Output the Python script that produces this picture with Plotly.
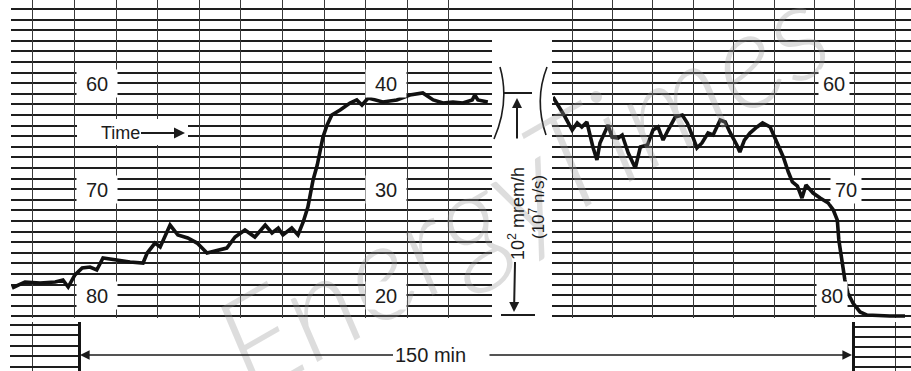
import plotly.graph_objects as go

# ---------------- data ----------------
# left chart segment: time in minutes, pen position in chart divisions
left_time = [-12.5, -10.0, -7.1, -4.2, -2.7, -1.7, -0.4, 1.0, 2.5, 3.8, 5.0, 7.3, 10.2, 12.7,
             13.5, 15.0, 16.0, 17.9, 19.4, 21.3, 23.1, 25.0, 27.1, 28.8, 30.4, 32.3, 34.2,
             36.2, 37.5, 38.7, 39.6, 41.3, 42.5, 43.5, 44.4, 45.4, 46.2, 46.7, 47.3, 48.1,
             49.0, 50.6, 52.5, 53.8, 54.8, 56.0, 58.8, 61.5, 64.0, 66.5, 68.5, 70.4, 72.3,
             74.2, 76.0, 76.5, 77.1, 79.0]
left_reading = [79.32, 78.75, 78.85, 78.75, 78.57, 79.23, 78.09, 77.43, 77.34, 77.62, 76.49,
                76.68, 76.87, 76.96, 76.02, 75.08, 75.45, 73.38, 74.32, 74.60, 75.08, 76.02,
                75.74, 75.55, 74.51, 73.85, 74.51, 73.38, 74.13, 73.66, 74.32, 73.66, 74.32,
                73.09, 71.68, 69.13, 67.72, 66.30, 65.08, 63.94, 63.00, 62.53, 61.87, 61.58,
                62.06, 61.40, 61.77, 61.58, 61.11, 60.92, 61.58, 61.87, 61.77, 61.87, 61.58,
                61.11, 61.58, 61.77]

# right chart segment
right_time = [90.2, 91.2, 92.6, 94.0, 95.0, 95.9, 96.9, 98.1, 98.9, 99.5, 101.1, 101.9, 103.1,
              103.9, 105.1, 106.5, 107.5, 108.9, 110.0, 111.0, 112.0, 113.0, 114.4, 115.8,
              116.8, 117.9, 118.7, 119.7, 120.9, 121.9, 123.3, 124.3, 125.2, 126.6, 127.2,
              128.1, 129.2, 130.6, 131.7, 133.2, 134.6, 135.8, 136.8, 137.6, 138.6, 139.5,
              140.3, 141.7, 143.1, 144.7, 145.7, 146.5, 146.8, 147.4, 148.0, 148.6, 149.6,
              151.0, 152.4, 156.9, 159.9]
right_reading = [61.30, 62.06, 63.19, 64.42, 63.75, 64.13, 63.66, 66.02, 67.25, 65.64, 63.94,
                 65.08, 65.17, 64.89, 66.58, 68.00, 66.02, 65.83, 64.42, 64.13, 65.36, 64.42,
                 63.19, 63.00, 63.75, 65.08, 66.11, 65.64, 64.70, 64.89, 63.47, 63.66, 64.60,
                 65.83, 66.49, 65.36, 64.70, 64.13, 63.75, 64.13, 65.64, 66.96, 68.38, 69.32,
                 69.70, 70.83, 69.60, 70.36, 70.83, 71.30, 71.96, 72.91, 74.79, 76.68, 78.57,
                 79.79, 80.74, 81.58, 81.87, 81.96, 81.96]

chart_levels = [60, 70, 80]           # chart lines carrying printed labels
left_labels = ["60", "70", "80"]
mid_labels = ["40", "30", "20"]
right_labels = ["60", "70", "80"]
DURATION_MIN = 150

# ---------------- layout helpers ----------------
W, H = 911, 371
def px(p):
    return p / W
def py(p):
    return 1 - p / H

FONT = "Liberation Sans, Arial, sans-serif"
INK = "#1c1c1c"
HGRID = dict(showgrid=True, gridcolor="#1e1e1e", gridwidth=2.4, dtick=1, tick0=60)
VGRID = dict(showgrid=True, gridcolor="#3a3a3a", gridwidth=1.4, dtick=8)
HIDE = dict(showticklabels=False, ticks="", zeroline=False, showline=False)

chart_dom = [py(318), 1]
y_range = [82.15, 52.15]

fig = go.Figure()
# empty traces so that the grid-only subplots are created
for xa, ya in [("x", "y"), ("x4", "y4"), ("x5", "y5")]:
    fig.add_trace(go.Scatter(x=[], y=[], xaxis=xa, yaxis=ya, mode="lines", hoverinfo="skip"))
# left and right pen traces
fig.add_trace(go.Scatter(x=left_time, y=left_reading, xaxis="x2", yaxis="y2", mode="lines",
                         line=dict(color="#111", width=3.6), hoverinfo="skip"))
fig.add_trace(go.Scatter(x=right_time, y=right_reading, xaxis="x3", yaxis="y3", mode="lines",
                         line=dict(color="#111", width=3.6), hoverinfo="skip"))

fig.update_layout(
    width=W, height=H, margin=dict(l=0, r=0, t=0, b=0),
    paper_bgcolor="white", plot_bgcolor="rgba(0,0,0,0)", showlegend=False,
    # background horizontal chart lines
    xaxis=dict(domain=[px(11), 1], range=[0, 1], showgrid=False, anchor="y", **HIDE),
    yaxis=dict(domain=chart_dom, range=y_range, anchor="x", **HGRID, **HIDE),
    # left segment
    xaxis2=dict(domain=[px(10), px(491)], range=[-12.885, 79.615], tick0=7.5, anchor="y2",
                **VGRID, **HIDE),
    yaxis2=dict(domain=chart_dom, range=y_range, showgrid=False, anchor="x2", **HIDE),
    # right segment
    xaxis3=dict(domain=[px(553), 1], range=[90.2, 161.09], tick0=150, anchor="y3",
                **VGRID, **HIDE),
    yaxis3=dict(domain=chart_dom, range=y_range, showgrid=False, anchor="x3", **HIDE),
    # lower-left strip piece
    xaxis4=dict(domain=[px(10), px(78)], range=[-12.885, 0.19], tick0=-8.5, dtick=100,
                showgrid=True, gridcolor="#3a3a3a", gridwidth=1.4, anchor="y4",
                showticklabels=False, ticks="", zeroline=False),
    yaxis4=dict(domain=[0, py(322)], range=[4.42, -0.29], tick0=0, dtick=1, showgrid=True,
                gridcolor="#1e1e1e", gridwidth=2.2, anchor="x4", side="right",
                showline=True, linecolor="#151515", linewidth=3,
                showticklabels=False, ticks="", zeroline=False),
    # lower-right strip piece
    xaxis5=dict(domain=[px(855), 1], range=[150, 161.09], tick0=158, dtick=100,
                showgrid=True, gridcolor="#3a3a3a", gridwidth=1.4, anchor="y5",
                showticklabels=False, ticks="", zeroline=False),
    yaxis5=dict(domain=[0, py(322)], range=[4.4, -0.5], tick0=0, dtick=1, showgrid=True,
                gridcolor="#1e1e1e", gridwidth=2.2, anchor="x5", side="left",
                showline=True, linecolor="#151515", linewidth=3,
                showticklabels=False, ticks="", zeroline=False),
)

shapes = []
# white gap between the two chart segments
shapes.append(dict(type="rect", xref="paper", yref="paper", x0=px(492), x1=px(552),
                   y0=py(322), y1=py(36), fillcolor="white", line=dict(width=0), layer="above"))
# white box behind "Time"
shapes.append(dict(type="rect", xref="paper", yref="paper", x0=px(77), x1=px(188),
                   y0=py(145), y1=py(119), fillcolor="white", line=dict(width=0), layer="above"))
# scale bar in the gap
for (x0, x1, yy) in [(503, 532, 93), (501, 535, 315)]:
    shapes.append(dict(type="line", xref="paper", yref="paper", x0=px(x0), x1=px(x1),
                       y0=py(yy), y1=py(yy), line=dict(color=INK, width=2), layer="above"))
# break brackets
def qpath(p0, c, p1):
    return "M {} {} Q {} {} {} {}".format(px(p0[0]), py(p0[1]), px(c[0]), py(c[1]),
                                          px(p1[0]), py(p1[1]))
shapes.append(dict(type="path", xref="paper", yref="paper",
                   path=qpath((500, 67), (510, 102), (494, 139)),
                   line=dict(color=INK, width=1.6), layer="above"))
shapes.append(dict(type="path", xref="paper", yref="paper",
                   path=qpath((547, 67), (534, 100), (546, 135)),
                   line=dict(color=INK, width=1.6), layer="above"))
fig.update_layout(shapes=shapes)

ann = []
# faint watermark
ann.append(dict(xref="paper", yref="paper", x=px(520), y=py(185), text="EnergyTimes",
                showarrow=False, textangle=-30,
                font=dict(family="Lato, DejaVu Serif", size=135, color="rgba(150,150,150,0.32)",
                          style="italic", weight=300)))

box = dict(showarrow=False, bgcolor="white", height=27, borderpad=0,
           font=dict(family=FONT, size=20, color=INK))
for lvl, lab in zip(chart_levels, left_labels):
    ann.append(dict(xref="x2", yref="y2", x=3.8, y=lvl, text=lab, width=40, **box))
for lvl, lab in zip(chart_levels, mid_labels):
    ann.append(dict(xref="x2", yref="y2", x=59.4, y=lvl, text=lab, width=40, **box))
for lvl, lab, tx in zip(chart_levels, right_labels, [145.8, 148.2, 145.5]):
    ann.append(dict(xref="x3", yref="y3", x=tx, y=lvl, text=lab, width=30, **box))

# Time arrow (arrow drawn from the text box to the tip)
ann.append(dict(xref="paper", yref="paper", x=px(185), y=py(133), text="Time", showarrow=True,
                ax=-65, ay=0, arrowhead=2, arrowsize=1.1, arrowwidth=2, arrowcolor=INK,
                font=dict(family=FONT, size=18, color=INK)))

# scale annotation in the gap
ann.append(dict(xref="paper", yref="paper", x=px(514), y=py(312), text="10<sup>2</sup> mrem/h",
                showarrow=True, ax=2, ay=-98, arrowhead=2, arrowsize=1, arrowwidth=2,
                arrowcolor=INK, textangle=-90, font=dict(family=FONT, size=18, color=INK)))
ann.append(dict(xref="paper", yref="paper", x=px(517), y=py(98), text="", showarrow=True,
                ax=0, ay=42, arrowhead=2, arrowsize=1, arrowwidth=2, arrowcolor=INK))
ann.append(dict(xref="paper", yref="paper", x=px(537), y=py(207), text="(10<sup>7</sup> n/s)",
                showarrow=False, textangle=-90, font=dict(family=FONT, size=17, color=INK)))

# duration bar
ann.append(dict(xref="paper", yref="paper", x=px(80), y=py(355), text=f"{DURATION_MIN} min",
                showarrow=True, ax=350, ay=0, arrowhead=2, arrowsize=1.2, arrowwidth=1.6,
                arrowcolor=INK, font=dict(family=FONT, size=20, color=INK)))
ann.append(dict(xref="paper", yref="paper", x=px(852), y=py(355), text="", showarrow=True,
                ax=-364, ay=0, arrowhead=2, arrowsize=1.2, arrowwidth=1.6, arrowcolor=INK))
fig.update_layout(annotations=ann)

fig.write_html("out.html", config={"displayModeBar": False},
               post_script="document.body.style.margin='0px';"
                           "document.body.style.overflow='hidden';")
